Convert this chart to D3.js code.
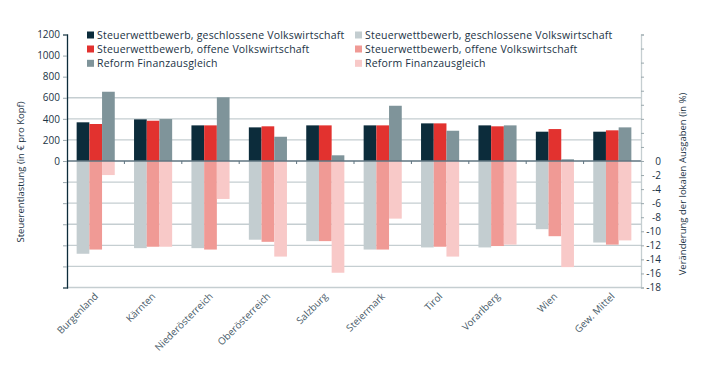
<!DOCTYPE html>
<html><head><meta charset="utf-8">
<script src="https://cdn.jsdelivr.net/npm/d3@7"></script>
<style>
body{margin:0;background:#fff;}
text{font-family:"Open Sans","Noto Sans",sans-serif;}
</style></head>
<body><svg id="c" width="713" height="385"></svg>
<script>
const categories = ["Burgenland","Kärnten","Niederösterreich","Oberösterreich","Salzburg","Steiermark","Tirol","Vorarlberg","Wien","Gew. Mittel"];
// Steuerentlastung (€ pro Kopf) – left axis
const closedEntl = [367,395,338,319,338,338,357,338,278,278];
const openEntl   = [351,382,338,329,338,338,357,329,303,291];
const reformEntl = [657,398,604,230,54,524,287,338,16,319];
// Veränderung der lokalen Ausgaben (%) – right axis
const closedAusg = [-13.2,-12.4,-12.4,-11.2,-11.4,-12.6,-12.3,-12.3,-9.7,-11.6];
const openAusg   = [-12.6,-12.2,-12.6,-11.5,-11.4,-12.6,-12.2,-12.1,-10.7,-11.9];
const reformAusg = [-2.0,-12.2,-5.4,-13.6,-15.9,-8.2,-13.6,-11.9,-15.1,-11.3];
const seriesNames = ["Steuerwettbewerb, geschlossene Volkswirtschaft","Steuerwettbewerb, offene Volkswirtschaft","Reform Finanzausgleich"];
const leftTicks = [0,200,400,600,800,1000,1200];
const rightTicks = [0,-2,-4,-6,-8,-10,-12,-14,-16,-18];

const colPos = ["#0c2c3b","#e2322f","#7f949a"];
const colNeg = ["#c3cdd0","#f09a95","#f8c9c8"];

const svg = d3.select("#c");
const X0 = 67, X1 = 641, YT = 34.5, YB = 287.5;
const x = d3.scaleBand().domain(categories).range([X0, X1]).paddingInner(0.336).paddingOuter(0.168);
const xs = d3.scaleBand().domain([0,1,2]).range([0, x.bandwidth()]);
const yL = d3.scaleLinear().domain([-1200,1200]).range([YB, YT]);
const yR = d3.scaleLinear().domain([-18,18]).range([YB, YT]);

// gridlines
const gridVals = [600,400,200,-200,-400,-600,-800,-1000,-1200];
svg.append("g").selectAll("line").data(gridVals).join("line")
  .attr("x1", X0).attr("x2", X1).attr("y1", d=>yL(d)).attr("y2", d=>yL(d))
  .attr("stroke", "#c5ced1").attr("stroke-width", 1.3);

const posSeries = [closedEntl, openEntl, reformEntl];
const negSeries = [closedAusg, openAusg, reformAusg];
posSeries.forEach((s,i)=>{
  svg.append("g").selectAll("rect").data(s).join("rect")
    .attr("x",(d,j)=>x(categories[j])+xs(i)).attr("width", xs.bandwidth())
    .attr("y", d=>yL(d)).attr("height", d=>yL(0)-yL(d)).attr("fill", colPos[i]);
});
negSeries.forEach((s,i)=>{
  svg.append("g").selectAll("rect").data(s).join("rect")
    .attr("x",(d,j)=>x(categories[j])+xs(i)).attr("width", xs.bandwidth())
    .attr("y", yR(0)).attr("height", d=>yR(d)-yR(0)).attr("fill", colNeg[i]);
});

// zero line with band ticks
svg.append("line").attr("x1",X0).attr("x2",X1).attr("y1",yL(0)).attr("y2",yL(0))
  .attr("stroke","#5f7480").attr("stroke-width",1.3);
svg.append("g").selectAll("line").data(d3.range(1, categories.length)).join("line")
  .attr("x1", d=>X0+d*(X1-X0)/categories.length).attr("x2", d=>X0+d*(X1-X0)/categories.length)
  .attr("y1", yL(0)).attr("y2", yL(0)+3).attr("stroke","#5f7480");

// left axis
const gL = svg.append("g").attr("transform",`translate(${X0},0)`)
  .call(d3.axisLeft(yL).tickValues(d3.range(-1200,1201,200)).tickSize(4)
    .tickFormat(d=> d>=0 ? d : ""));
gL.select(".domain").attr("stroke","#0c2c3b").attr("stroke-width",1.3);
gL.selectAll(".tick line").attr("stroke","#9aa8ad");
gL.selectAll(".tick text").attr("x",-7).attr("fill","#1b3345").style("font-size","10px");

// right axis
const gR = svg.append("g").attr("transform",`translate(${X1},0)`)
  .call(d3.axisRight(yR).tickValues(d3.range(-18,19,2)).tickSize(3).tickFormat(""));
gR.select(".domain").attr("stroke","#c5ced1").attr("stroke-width",1.3);
gR.selectAll(".tick line").attr("stroke","#9aa8ad");
svg.append("g").selectAll("text").data(rightTicks).join("text")
  .attr("x", 661).attr("y", d=>yR(d)).attr("dy","0.35em").attr("text-anchor","end")
  .attr("fill","#1b3345").style("font-size","10px").text(d=>d);

// x labels
svg.append("g").selectAll("text").data(categories).join("text")
  .attr("transform", d=>`translate(${x(d)+x.bandwidth()/2+3},${297}) rotate(-45)`)
  .attr("text-anchor","end").attr("fill","#4a5d6a").style("font-size","9.8px").text(d=>d);

// axis titles
svg.append("text").attr("transform",`translate(24,172) rotate(-90)`).attr("text-anchor","middle")
  .attr("fill","#1b3345").style("font-size","9.5px").text("Steuerentlastung (in € pro Kopf)");
svg.append("text").attr("transform",`translate(686,184) rotate(-90)`).attr("text-anchor","middle")
  .attr("fill","#1b3345").style("font-size","9.5px").text("Veränderung der lokalen Ausgaben (in %)");

// legend
const legY = [35,49,63.3];
const legend = svg.append("g");
[[87,colPos],[355,colNeg]].forEach(([lx,cols])=>{
  seriesNames.forEach((n,i)=>{
    legend.append("rect").attr("x",lx).attr("y",legY[i]-3.5).attr("width",7).attr("height",7).attr("fill",cols[i]);
    legend.append("text").attr("x",lx+10).attr("y",legY[i]).attr("dy","0.35em")
      .attr("fill","#1b3345").style("font-size","10.5px").style("letter-spacing","0.2px").text(n);
  });
});
</script></body></html>
